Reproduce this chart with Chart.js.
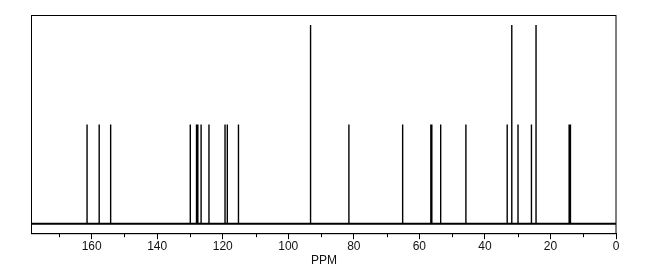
<!DOCTYPE html>
<html>
<head>
<meta charset="utf-8">
<script src="https://cdn.jsdelivr.net/npm/chart.js@4"></script>
<style>
  html, body { margin: 0; padding: 0; background: #fff; }
  #wrap { width: 660px; height: 270px; }
</style>
</head>
<body>
<div id="wrap"><canvas id="nmr"></canvas></div>
<script>
// peak positions (ppm) and relative heights
const shifts = [161.4, 157.7, 154.2, 129.9, 128.0, 127.6, 126.6, 124.2, 119.3, 118.6, 115.2,
                93.2, 81.5, 65.1, 56.5, 56.2, 53.5, 45.8, 33.2, 31.8, 29.9, 25.8, 24.4, 14.3, 13.9];
const heights = [1, 1, 1, 1, 1, 1, 1, 1, 1, 1, 1,
                 2, 1, 1, 1, 1, 1, 1, 1, 2, 1, 1, 2, 1, 1];
const majorTicks = [0, 20, 40, 60, 80, 100, 120, 140, 160];
const minorTicks = [10, 30, 50, 70, 90, 110, 130, 150, 170];
const ppmRange = [0, 178.2];

// each peak becomes a vertical stick, separated by gaps
const sticks = [];
shifts.forEach((s, i) => {
  sticks.push({ x: s, y: 0 }, { x: s, y: heights[i] }, { x: s, y: null });
});

const framePlugin = {
  id: 'frame',
  afterDraw(chart) {
    const { ctx, chartArea: a, scales } = chart;
    ctx.save();
    ctx.strokeStyle = '#000';
    ctx.lineWidth = 1;
    ctx.strokeRect(a.left - 0.5, a.top + 0.5, a.right - a.left + 0.5, a.bottom - a.top);
    // short minor ticks
    ctx.beginPath();
    minorTicks.forEach(v => {
      const x = Math.round(scales.x.getPixelForValue(v)) + 0.5;
      ctx.moveTo(x, a.bottom);
      ctx.lineTo(x, a.bottom + 4);
    });
    ctx.stroke();
    ctx.restore();
  }
};

new Chart(document.getElementById('nmr'), {
  type: 'line',
  data: {
    datasets: [{
      data: sticks,
      borderColor: '#000',
      borderWidth: 1.4,
      pointRadius: 0,
      spanGaps: false
    }, {
      data: [{ x: ppmRange[0], y: 0 }, { x: ppmRange[1], y: 0 }],
      borderColor: '#000',
      borderWidth: 2,
      pointRadius: 0
    }]
  },
  options: {
    responsive: true,
    maintainAspectRatio: false,
    animation: false,
    layout: { padding: { left: 32, right: 44, top: 15, bottom: 0 } },
    plugins: { legend: { display: false }, tooltip: { enabled: false } },
    scales: {
      x: {
        type: 'linear',
        reverse: true,
        min: ppmRange[0],
        max: ppmRange[1],
        border: { display: true, color: '#000', width: 1 },
        grid: { drawOnChartArea: false, drawTicks: true, tickLength: 6, color: '#000' },
        afterBuildTicks(scale) {
          scale.ticks = majorTicks.map(v => ({ value: v }));
        },
        ticks: {
          color: '#111',
          padding: 0,
          maxRotation: 0,
          font: { family: 'Liberation Sans, Arial, sans-serif', size: 12 }
        },
        title: {
          display: true,
          text: 'PPM',
          color: '#111',
          padding: { top: 0, bottom: 2 },
          font: { family: 'Liberation Sans, Arial, sans-serif', size: 12 }
        }
      },
      y: {
        display: false,
        min: -0.094,
        max: 2.1
      }
    }
  },
  plugins: [framePlugin]
});
</script>
</body>
</html>
